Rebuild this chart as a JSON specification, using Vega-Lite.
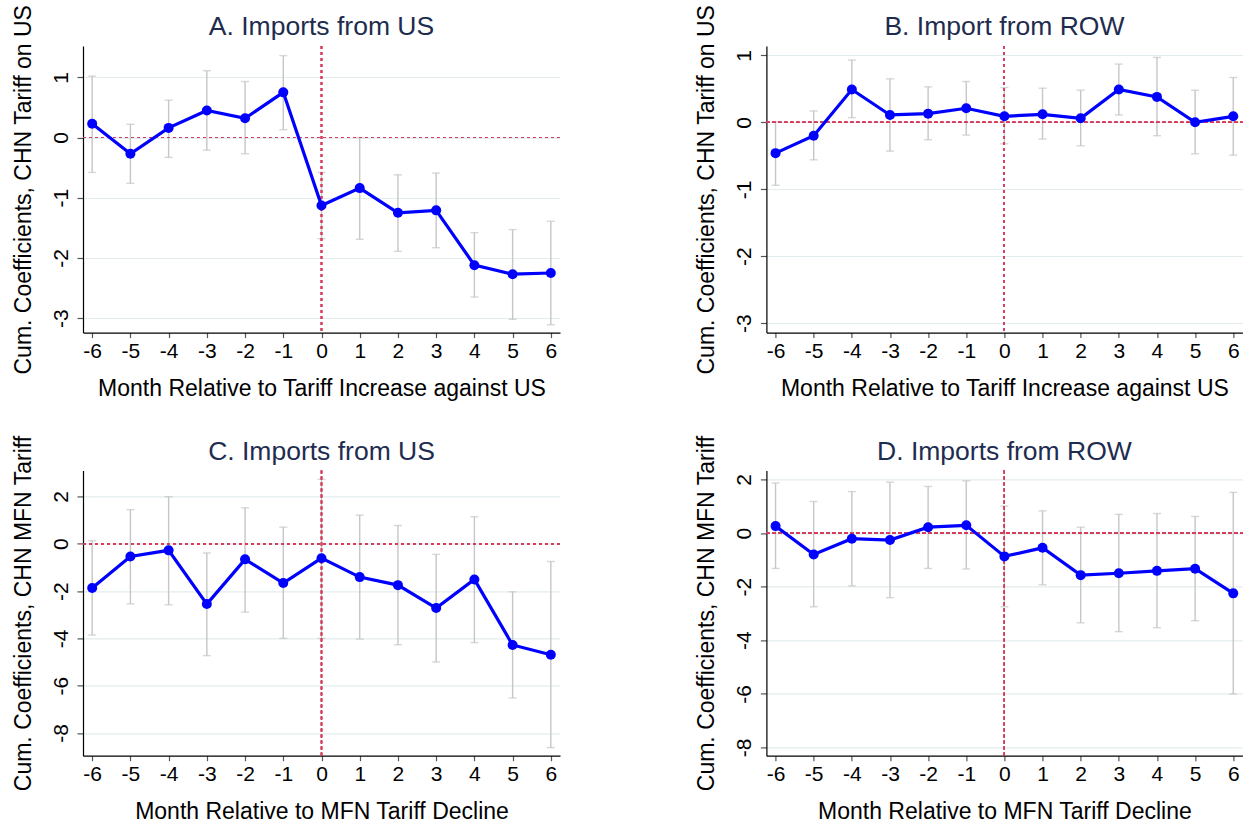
{
  "$schema": "https://vega.github.io/schema/vega-lite/v6.json",
  "padding": {"left": 12, "top": 4, "right": 0, "bottom": 0},
  "background": "white",
  "datasets": {
    "coefs": [
      {"panel": "A", "m": -6, "b": 0.23, "hi": 1.02, "lo": -0.58},
      {"panel": "A", "m": -5, "b": -0.27, "hi": 0.22, "lo": -0.76},
      {"panel": "A", "m": -4, "b": 0.16, "hi": 0.62, "lo": -0.33},
      {"panel": "A", "m": -3, "b": 0.45, "hi": 1.11, "lo": -0.21},
      {"panel": "A", "m": -2, "b": 0.32, "hi": 0.93, "lo": -0.27},
      {"panel": "A", "m": -1, "b": 0.75, "hi": 1.36, "lo": 0.13},
      {"panel": "A", "m": 0, "b": -1.13, "hi": -0.58, "lo": -1.68},
      {"panel": "A", "m": 1, "b": -0.84, "hi": 0.0, "lo": -1.69},
      {"panel": "A", "m": 2, "b": -1.25, "hi": -0.62, "lo": -1.89},
      {"panel": "A", "m": 3, "b": -1.21, "hi": -0.59, "lo": -1.83},
      {"panel": "A", "m": 4, "b": -2.12, "hi": -1.58, "lo": -2.65},
      {"panel": "A", "m": 5, "b": -2.27, "hi": -1.53, "lo": -3.02},
      {"panel": "A", "m": 6, "b": -2.25, "hi": -1.39, "lo": -3.11},
      {"panel": "B", "m": -6, "b": -0.46, "hi": 0.01, "lo": -0.94},
      {"panel": "B", "m": -5, "b": -0.2, "hi": 0.17, "lo": -0.56},
      {"panel": "B", "m": -4, "b": 0.49, "hi": 0.93, "lo": 0.07},
      {"panel": "B", "m": -3, "b": 0.11, "hi": 0.65, "lo": -0.43},
      {"panel": "B", "m": -2, "b": 0.13, "hi": 0.53, "lo": -0.26},
      {"panel": "B", "m": -1, "b": 0.21, "hi": 0.61, "lo": -0.19},
      {"panel": "B", "m": 0, "b": 0.09, "hi": 0.52, "lo": -0.32},
      {"panel": "B", "m": 1, "b": 0.12, "hi": 0.51, "lo": -0.25},
      {"panel": "B", "m": 2, "b": 0.06, "hi": 0.48, "lo": -0.35},
      {"panel": "B", "m": 3, "b": 0.49, "hi": 0.87, "lo": 0.11},
      {"panel": "B", "m": 4, "b": 0.38, "hi": 0.97, "lo": -0.2},
      {"panel": "B", "m": 5, "b": 0.0, "hi": 0.48, "lo": -0.47},
      {"panel": "B", "m": 6, "b": 0.09, "hi": 0.67, "lo": -0.49},
      {"panel": "C", "m": -6, "b": -1.87, "hi": 0.13, "lo": -3.86},
      {"panel": "C", "m": -5, "b": -0.54, "hi": 1.44, "lo": -2.54},
      {"panel": "C", "m": -4, "b": -0.28, "hi": 1.99, "lo": -2.58},
      {"panel": "C", "m": -3, "b": -2.55, "hi": -0.39, "lo": -4.73},
      {"panel": "C", "m": -2, "b": -0.66, "hi": 1.52, "lo": -2.89},
      {"panel": "C", "m": -1, "b": -1.66, "hi": 0.7, "lo": -4.0},
      {"panel": "C", "m": 0, "b": -0.61, "hi": 2.72, "lo": -4.0},
      {"panel": "C", "m": 1, "b": -1.41, "hi": 1.21, "lo": -4.03},
      {"panel": "C", "m": 2, "b": -1.75, "hi": 0.77, "lo": -4.27},
      {"panel": "C", "m": 3, "b": -2.72, "hi": -0.45, "lo": -5.0},
      {"panel": "C", "m": 4, "b": -1.51, "hi": 1.14, "lo": -4.18},
      {"panel": "C", "m": 5, "b": -4.28, "hi": -2.03, "lo": -6.52},
      {"panel": "C", "m": 6, "b": -4.69, "hi": -0.75, "lo": -8.62},
      {"panel": "D", "m": -6, "b": 0.26, "hi": 1.87, "lo": -1.32},
      {"panel": "D", "m": -5, "b": -0.8, "hi": 1.18, "lo": -2.75},
      {"panel": "D", "m": -4, "b": -0.21, "hi": 1.55, "lo": -1.97},
      {"panel": "D", "m": -3, "b": -0.26, "hi": 1.9, "lo": -2.41},
      {"panel": "D", "m": -2, "b": 0.22, "hi": 1.74, "lo": -1.32},
      {"panel": "D", "m": -1, "b": 0.29, "hi": 1.95, "lo": -1.34},
      {"panel": "D", "m": 0, "b": -0.87, "hi": 1.01, "lo": -2.75},
      {"panel": "D", "m": 1, "b": -0.55, "hi": 0.83, "lo": -1.93},
      {"panel": "D", "m": 2, "b": -1.57, "hi": 0.22, "lo": -3.35},
      {"panel": "D", "m": 3, "b": -1.5, "hi": 0.7, "lo": -3.68},
      {"panel": "D", "m": 4, "b": -1.41, "hi": 0.73, "lo": -3.53},
      {"panel": "D", "m": 5, "b": -1.33, "hi": 0.62, "lo": -3.27},
      {"panel": "D", "m": 6, "b": -2.25, "hi": 1.52, "lo": -6.01}
    ]
  },
  "data": {"name": "coefs"},
  "columns": 2,
  "bounds": "flush",
  "spacing": {"row": 137.4, "column": 206.4},
  "concat": [
    {
      "width": 477, "height": 286.6,
      "title": {"text": "A. Imports from US", "frame": "group", "offset": -36.6},
      "transform": [{"filter": "datum.panel == 'A'"}],
      "encoding": {
        "x": {"field": "m", "type": "quantitative", "scale": {"domain": [-6.24, 6.24], "nice": false},
              "axis": {"title": "Month Relative to Tariff Increase against US", "values": [-6,-5,-4,-3,-2,-1,0,1,2,3,4,5,6],
                       "labelExpr": "datum.value < 0 ? '-' + abs(datum.value) : '' + datum.value"}}
      },
      "layer": [
        {"mark": {"type": "errorbar", "ticks": {"size": 8, "thickness": 1.4, "color": "#c6c6c6"}, "rule": {"strokeWidth": 1.4, "color": "#c6c6c6"}},
         "encoding": {"y": {"field": "lo", "type": "quantitative", "scale": {"domain": [-3.24, 1.52], "nice": false, "zero": false},
                            "axis": {"title": "Cum. Coefficients, CHN Tariff on US", "values": [-3,-2,-1,0,1],
                                     "labelExpr": "datum.value < 0 ? '-' + abs(datum.value) : '' + datum.value"}},
                      "y2": {"field": "hi"}}},
        {"mark": {"type": "rule", "color": "#d63d5c", "strokeDash": [3, 3], "strokeWidth": 1.2},
         "encoding": {"x": {"datum": -6.24}, "x2": {"datum": 6.24}, "y": {"datum": 0}}},
        {"mark": {"type": "rule", "color": "#d63d5c", "strokeDash": [3, 3], "strokeWidth": 1.2}, "encoding": {"x": {"datum": 0}}},
        {"mark": {"type": "line", "color": "#0000ff", "strokeWidth": 3.2, "point": {"filled": true, "size": 100, "color": "#0000ff"}},
         "encoding": {"y": {"field": "b", "type": "quantitative"}}}
      ]
    },
    {
      "width": 476, "height": 286.6,
      "title": {"text": "B. Import from ROW", "frame": "group", "offset": -36.6},
      "transform": [{"filter": "datum.panel == 'B'"}],
      "encoding": {
        "x": {"field": "m", "type": "quantitative", "scale": {"domain": [-6.24, 6.24], "nice": false},
              "axis": {"title": "Month Relative to Tariff Increase against US", "values": [-6,-5,-4,-3,-2,-1,0,1,2,3,4,5,6],
                       "labelExpr": "datum.value < 0 ? '-' + abs(datum.value) : '' + datum.value"}}
      },
      "layer": [
        {"mark": {"type": "errorbar", "ticks": {"size": 8, "thickness": 1.4, "color": "#c6c6c6"}, "rule": {"strokeWidth": 1.4, "color": "#c6c6c6"}},
         "encoding": {"y": {"field": "lo", "type": "quantitative", "scale": {"domain": [-3.14, 1.14], "nice": false, "zero": false},
                            "axis": {"title": "Cum. Coefficients, CHN Tariff on US", "values": [-3,-2,-1,0,1],
                                     "labelExpr": "datum.value < 0 ? '-' + abs(datum.value) : '' + datum.value"}},
                      "y2": {"field": "hi"}}},
        {"mark": {"type": "rule", "color": "#d63d5c", "strokeDash": [3, 3], "strokeWidth": 1.2},
         "encoding": {"x": {"datum": -6.24}, "x2": {"datum": 6.24}, "y": {"datum": 0}}},
        {"mark": {"type": "rule", "color": "#d63d5c", "strokeDash": [3, 3], "strokeWidth": 1.2}, "encoding": {"x": {"datum": 0}}},
        {"mark": {"type": "line", "color": "#0000ff", "strokeWidth": 3.2, "point": {"filled": true, "size": 100, "color": "#0000ff"}},
         "encoding": {"y": {"field": "b", "type": "quantitative"}}}
      ]
    },
    {
      "width": 477, "height": 285.3,
      "title": {"text": "C. Imports from US", "frame": "group", "offset": -30.2},
      "transform": [{"filter": "datum.panel == 'C'"}],
      "encoding": {
        "x": {"field": "m", "type": "quantitative", "scale": {"domain": [-6.24, 6.24], "nice": false},
              "axis": {"title": "Month Relative to MFN Tariff Decline", "values": [-6,-5,-4,-3,-2,-1,0,1,2,3,4,5,6],
                       "labelExpr": "datum.value < 0 ? '-' + abs(datum.value) : '' + datum.value"}}
      },
      "layer": [
        {"mark": {"type": "errorbar", "ticks": {"size": 8, "thickness": 1.4, "color": "#c6c6c6"}, "rule": {"strokeWidth": 1.4, "color": "#c6c6c6"}},
         "encoding": {"y": {"field": "lo", "type": "quantitative", "scale": {"domain": [-8.96, 3.1], "nice": false, "zero": false},
                            "axis": {"title": "Cum. Coefficients, CHN MFN Tariff", "values": [-8,-6,-4,-2,0,2],
                                     "labelExpr": "datum.value < 0 ? '-' + abs(datum.value) : '' + datum.value"}},
                      "y2": {"field": "hi"}}},
        {"mark": {"type": "rule", "color": "#d63d5c", "strokeDash": [3, 3], "strokeWidth": 1.2},
         "encoding": {"x": {"datum": -6.24}, "x2": {"datum": 6.24}, "y": {"datum": 0}}},
        {"mark": {"type": "rule", "color": "#d63d5c", "strokeDash": [3, 3], "strokeWidth": 1.2}, "encoding": {"x": {"datum": 0}}},
        {"mark": {"type": "line", "color": "#0000ff", "strokeWidth": 3.2, "point": {"filled": true, "size": 100, "color": "#0000ff"}},
         "encoding": {"y": {"field": "b", "type": "quantitative"}}}
      ]
    },
    {
      "width": 476, "height": 285.3,
      "title": {"text": "D. Imports from ROW", "frame": "group", "offset": -30.2},
      "transform": [{"filter": "datum.panel == 'D'"}],
      "encoding": {
        "x": {"field": "m", "type": "quantitative", "scale": {"domain": [-6.24, 6.24], "nice": false},
              "axis": {"title": "Month Relative to MFN Tariff Decline", "values": [-6,-5,-4,-3,-2,-1,0,1,2,3,4,5,6],
                       "labelExpr": "datum.value < 0 ? '-' + abs(datum.value) : '' + datum.value"}}
      },
      "layer": [
        {"mark": {"type": "errorbar", "ticks": {"size": 8, "thickness": 1.4, "color": "#c6c6c6"}, "rule": {"strokeWidth": 1.4, "color": "#c6c6c6"}},
         "encoding": {"y": {"field": "lo", "type": "quantitative", "scale": {"domain": [-8.31, 2.34], "nice": false, "zero": false},
                            "axis": {"title": "Cum. Coefficients, CHN MFN Tariff", "values": [-8,-6,-4,-2,0,2],
                                     "labelExpr": "datum.value < 0 ? '-' + abs(datum.value) : '' + datum.value"}},
                      "y2": {"field": "hi"}}},
        {"mark": {"type": "rule", "color": "#d63d5c", "strokeDash": [3, 3], "strokeWidth": 1.2},
         "encoding": {"x": {"datum": -6.24}, "x2": {"datum": 6.24}, "y": {"datum": 0}}},
        {"mark": {"type": "rule", "color": "#d63d5c", "strokeDash": [3, 3], "strokeWidth": 1.2}, "encoding": {"x": {"datum": 0}}},
        {"mark": {"type": "line", "color": "#0000ff", "strokeWidth": 3.2, "point": {"filled": true, "size": 100, "color": "#0000ff"}},
         "encoding": {"y": {"field": "b", "type": "quantitative"}}}
      ]
    }
  ],
  "config": {
    "font": "Liberation Sans",
    "view": {"stroke": null},
    "axis": {
      "domainColor": "#000000", "domainWidth": 1.2,
      "tickColor": "#555555", "tickWidth": 1.2,
      "labelColor": "#000000", "labelFont": "Liberation Sans", "labelFontSize": 21,
      "titleColor": "#000000", "titleFont": "Liberation Sans", "titleFontSize": 23, "titleFontWeight": "normal",
      "gridColor": "#e3ecee", "gridWidth": 1.2
    },
    "axisX": {
      "grid": false, "tickSize": 5, "labelPadding": 2.5, "labelAngle": 0,
      "minExtent": 29, "maxExtent": 29, "titlePadding": 34, "titleBaseline": "alphabetic"
    },
    "axisY": {
      "grid": true, "tickSize": 6, "labelPadding": 10,
      "labelAngle": -90, "labelAlign": "center", "labelBaseline": "alphabetic",
      "minExtent": 36, "maxExtent": 36, "titlePadding": 16.5, "titleBaseline": "alphabetic"
    },
    "title": {
      "font": "Liberation Sans", "fontSize": 26.5, "fontWeight": "normal", "color": "#1e2c50",
      "anchor": "middle", "frame": "group", "baseline": "alphabetic"
    }
  }
}
